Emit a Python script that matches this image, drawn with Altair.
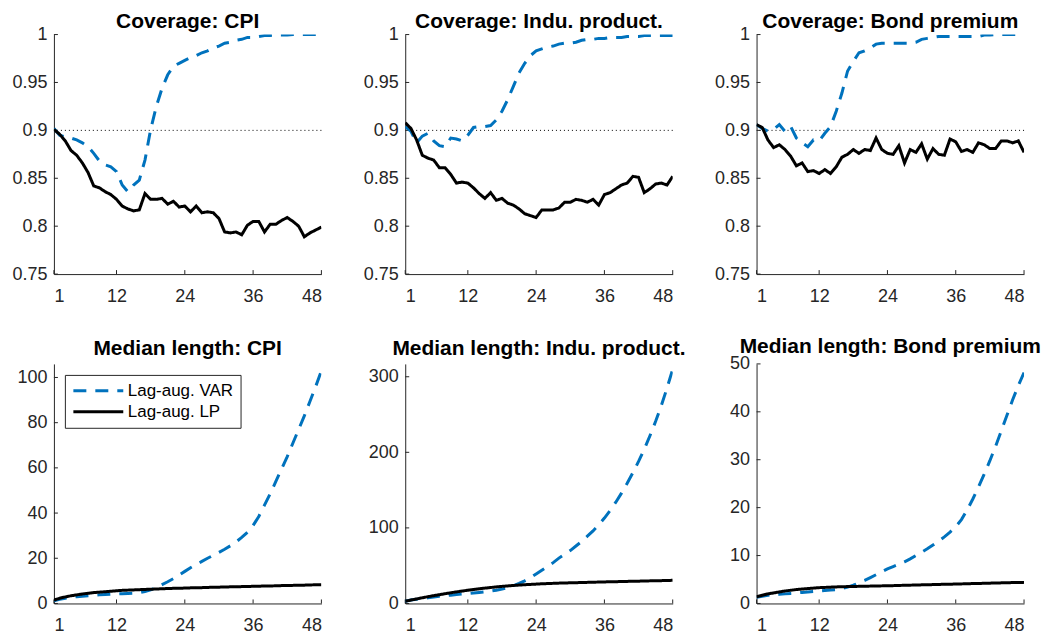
import altair as alt
import pandas as pd

horizons = list(range(1, 49))

series_names = ["Lag-aug. VAR", "Lag-aug. LP"]
line_colors = ["#0072BD", "#000000"]
line_dashes = [[13, 9], [1, 0]]

target_level = [0.9]
x_ticks = [1, 12, 24, 36, 48]

cov_cpi_var = [0.902, 0.895, 0.893, 0.892, 0.890, 0.887, 0.883, 0.876, 0.868, 0.864,
               0.862, 0.857, 0.843, 0.836, 0.843, 0.848, 0.869, 0.901, 0.925, 0.944,
               0.958, 0.967, 0.970, 0.973, 0.976, 0.978, 0.981, 0.983, 0.986, 0.988,
               0.991, 0.992, 0.994, 0.995, 0.997, 0.997, 0.998, 0.999, 0.999, 0.9995,
               0.9995, 0.9995, 1.0, 1.0, 1.0, 1.0, 1.0, 1.0]
cov_cpi_lp = [0.901, 0.896, 0.889, 0.879, 0.874, 0.866, 0.856, 0.842, 0.840, 0.836,
              0.833, 0.828, 0.821, 0.818, 0.816, 0.817, 0.834, 0.828, 0.828, 0.829,
              0.823, 0.826, 0.820, 0.821, 0.815, 0.821, 0.814, 0.815, 0.814, 0.808,
              0.794, 0.793, 0.794, 0.791, 0.801, 0.805, 0.805, 0.794, 0.802, 0.802,
              0.806, 0.809, 0.805, 0.800, 0.789, 0.793, 0.796, 0.799]

cov_ip_var = [0.904, 0.899, 0.887, 0.894, 0.897, 0.889, 0.884, 0.883, 0.892, 0.891,
              0.889, 0.895, 0.903, 0.904, 0.904, 0.905, 0.911, 0.920, 0.932, 0.946,
              0.960, 0.970, 0.978, 0.983, 0.985, 0.987, 0.988, 0.990, 0.991, 0.991,
              0.992, 0.994, 0.995, 0.995, 0.996, 0.996, 0.997, 0.997, 0.997, 0.998,
              0.998, 0.998, 0.999, 0.999, 0.999, 0.999, 0.999, 0.999]
cov_ip_lp = [0.908, 0.902, 0.890, 0.874, 0.871, 0.869, 0.861, 0.861, 0.854, 0.845,
             0.846, 0.845, 0.840, 0.834, 0.829, 0.835, 0.827, 0.829, 0.824, 0.822,
             0.818, 0.813, 0.811, 0.809, 0.817, 0.817, 0.817, 0.819, 0.825, 0.825,
             0.828, 0.827, 0.825, 0.828, 0.822, 0.833, 0.835, 0.839, 0.843, 0.845,
             0.852, 0.851, 0.835, 0.839, 0.844, 0.845, 0.843, 0.852]

cov_bp_var = [0.906, 0.902, 0.899, 0.901, 0.906, 0.899, 0.904, 0.892, 0.887, 0.883,
              0.890, 0.889, 0.897, 0.904, 0.920, 0.939, 0.962, 0.972, 0.981, 0.983,
              0.986, 0.990, 0.991, 0.991, 0.991, 0.991, 0.991, 0.991, 0.992, 0.995,
              0.996, 0.997, 0.998, 0.998, 0.998, 0.998, 0.998, 0.998, 0.998, 0.998,
              0.9995, 0.9995, 1.0, 1.0, 1.0, 1.0, 1.0, 1.0]
cov_bp_lp = [0.906, 0.903, 0.890, 0.882, 0.885, 0.880, 0.873, 0.863, 0.866, 0.857,
             0.858, 0.855, 0.859, 0.855, 0.862, 0.872, 0.875, 0.880, 0.876, 0.880,
             0.879, 0.892, 0.880, 0.876, 0.875, 0.884, 0.866, 0.880, 0.877, 0.886,
             0.870, 0.881, 0.875, 0.874, 0.891, 0.888, 0.878, 0.880, 0.877, 0.887,
             0.885, 0.881, 0.881, 0.889, 0.889, 0.887, 0.889, 0.877]

len_cpi_var = [1.2, 1.8, 2.3, 2.7, 3.0, 3.2, 3.4, 3.6, 3.8, 4.0,
               4.1, 4.2, 4.3, 4.4, 4.5, 4.8, 5.3, 6.0, 7.0, 8.3,
               9.6, 11.0, 12.6, 14.2, 15.8, 17.2, 18.6, 20.0, 21.3, 22.6,
               24.0, 25.5, 27.2, 29.2, 31.5, 34.5, 38.5, 43.5, 48.5, 54.0,
               59.5, 65.0, 71.0, 77.0, 83.0, 89.5, 96.0, 103.0]
len_cpi_lp = [1.5, 2.3, 2.9, 3.4, 3.8, 4.2, 4.5, 4.8, 5.0, 5.2,
              5.4, 5.6, 5.8, 5.9, 6.0, 6.1, 6.2, 6.3, 6.4, 6.5,
              6.6, 6.7, 6.75, 6.8, 6.9, 6.95, 7.0, 7.1, 7.15, 7.2,
              7.3, 7.35, 7.4, 7.45, 7.5, 7.6, 7.65, 7.7, 7.75, 7.8,
              7.9, 7.95, 8.0, 8.05, 8.1, 8.2, 8.25, 8.3]

len_ip_var = [3.0, 4.5, 5.5, 6.5, 7.5, 8.5, 9.5, 10.2, 11.0, 11.8,
              12.5, 13.2, 13.8, 14.5, 15.3, 16.3, 17.5, 19.0, 21.0, 23.5,
              26.5, 30.0, 34.0, 39.0, 44.0, 49.0, 54.0, 60.0, 65.0, 70.0,
              76.0, 82.0, 89.0, 96.0, 104.0, 113.0, 123.0, 134.0, 146.0, 159.0,
              173.0, 188.0, 204.0, 222.0, 241.0, 262.0, 285.0, 310.0]
len_ip_lp = [3.0, 4.5, 6.0, 7.5, 9.0, 10.3, 11.6, 12.9, 14.1, 15.3,
             16.4, 17.5, 18.5, 19.4, 20.3, 21.1, 21.9, 22.6, 23.2, 23.8,
             24.3, 24.8, 25.2, 25.6, 26.0, 26.3, 26.6, 26.9, 27.1, 27.3,
             27.5, 27.7, 27.9, 28.1, 28.3, 28.5, 28.7, 28.8, 29.0, 29.2,
             29.4, 29.5, 29.7, 29.9, 30.0, 30.2, 30.4, 30.6]

len_bp_var = [1.3, 1.5, 1.7, 1.8, 1.9, 2.0, 2.1, 2.2, 2.3, 2.4,
              2.5, 2.6, 2.7, 2.8, 2.9, 3.1, 3.4, 3.8, 4.3, 4.8,
              5.4, 6.0, 6.6, 7.2, 7.7, 8.2, 8.7, 9.3, 10.0, 10.7,
              11.4, 12.2, 13.0, 13.9, 14.9, 16.0, 17.5, 19.5, 21.8, 24.3,
              27.0, 29.8, 32.8, 36.0, 39.3, 42.5, 45.5, 48.2]
len_bp_lp = [1.4, 1.7, 2.0, 2.2, 2.4, 2.6, 2.75, 2.9, 3.0, 3.1,
             3.2, 3.3, 3.35, 3.4, 3.45, 3.5, 3.52, 3.55, 3.57, 3.6,
             3.62, 3.65, 3.67, 3.7, 3.72, 3.75, 3.8, 3.82, 3.85, 3.88,
             3.9, 3.94, 3.97, 4.0, 4.02, 4.05, 4.08, 4.12, 4.15, 4.18,
             4.2, 4.24, 4.27, 4.3, 4.33, 4.36, 4.38, 4.4]

FONT = "Liberation Sans"
AXIS_COLOR = "#262626"
W, H = 268, 240


def panel(title, var_vals, lp_vals, y_domain, y_ticks, fmt, title_offset,
          show_target=False, show_legend=False):
    df = pd.DataFrame({
        "h": horizons * 2,
        "value": var_vals + lp_vals,
        "series": [series_names[0]] * len(horizons) + [series_names[1]] * len(horizons),
    })
    x = alt.X("h:Q", scale=alt.Scale(domain=[1, 48], nice=False, zero=False),
              axis=alt.Axis(values=x_ticks, title=None, ticks=False, labelPadding=13))
    y = alt.Y("value:Q", scale=alt.Scale(domain=y_domain, nice=False, zero=False),
              axis=alt.Axis(values=y_ticks, format=fmt, title=None, ticks=False,
                            labelPadding=7, minExtent=46, maxExtent=46))
    if show_legend:
        leg = alt.Legend(title=None, orient="top-left", offset=11, strokeColor=AXIS_COLOR,
                         fillColor="white", padding=7, symbolType="stroke", symbolSize=2500,
                         symbolStrokeWidth=3, labelFontSize=17, labelFont=FONT,
                         labelColor="black", labelOffset=3, clipHeight=18, rowPadding=3)
    else:
        leg = None
    color = alt.Color("series:N", scale=alt.Scale(domain=series_names, range=line_colors), legend=leg)
    dash = alt.StrokeDash("series:N", scale=alt.Scale(domain=series_names, range=line_dashes), legend=leg)

    base = alt.Chart(df).mark_line(strokeWidth=3, clip=True).encode(
        x=x, y=y, color=color, strokeDash=dash)
    var_line = base.transform_filter(alt.datum.series == series_names[0])
    lp_line = base.transform_filter(alt.datum.series == series_names[1])

    layers = []
    if show_target:
        tgt = alt.Chart(pd.DataFrame({"value": target_level})).mark_rule(
            color="black", strokeDash=[1, 3], strokeWidth=1).encode(y="value:Q")
        layers.append(tgt)
    xt = alt.Chart(pd.DataFrame({"h": x_ticks})).mark_rule(color=AXIS_COLOR, strokeWidth=1).encode(
        x="h:Q", y=alt.value(H), y2=alt.value(H - 4))
    yt = alt.Chart(pd.DataFrame({"value": y_ticks})).mark_rule(color=AXIS_COLOR, strokeWidth=1).encode(
        y="value:Q", x=alt.value(0), x2=alt.value(4))
    layers += [xt, yt, var_line, lp_line]
    return alt.layer(*layers).properties(
        width=W, height=H,
        title=alt.TitleParams(title, frame="group", offset=title_offset))


cov_ticks = [0.75, 0.8, 0.85, 0.9, 0.95, 1.0]
p1 = panel("Coverage: CPI", cov_cpi_var, cov_cpi_lp, [0.75, 1.0], cov_ticks, "~g", -6, show_target=True)
p2 = panel("Coverage: Indu. product.", cov_ip_var, cov_ip_lp, [0.75, 1.0], cov_ticks, "~g", -6, show_target=True)
p3 = panel("Coverage: Bond premium", cov_bp_var, cov_bp_lp, [0.75, 1.0], cov_ticks, "~g", -6, show_target=True)
p4 = panel("Median length: CPI", len_cpi_var, len_cpi_lp, [0, 106],
           [0, 20, 40, 60, 80, 100], "d", 5, show_legend=True)
p5 = panel("Median length: Indu. product.", len_ip_var, len_ip_lp, [0, 317],
           [0, 100, 200, 300], "d", 5)
p6 = panel("Median length: Bond premium", len_bp_var, len_bp_lp, [0, 50],
           [0, 10, 20, 30, 40, 50], "d", -2)

chart = alt.concat(p1, p2, p3, p4, p5, p6, columns=3,
                   spacing={"row": 90, "column": 84}, bounds="flush").resolve_scale(
    color="independent", strokeDash="independent"
).resolve_legend(
    color="independent", strokeDash="independent"
).properties(
    padding={"top": 2, "left": 0, "right": 0, "bottom": 0}
).configure_view(
    strokeWidth=0
).configure_axis(
    domainColor=AXIS_COLOR, domainWidth=1, grid=False, labelFont=FONT,
    labelFontSize=18, labelColor=AXIS_COLOR
).configure_title(
    font=FONT, fontSize=21, fontWeight="bold", color="black", anchor="middle"
)

chart.save("out.html", embed_options={"renderer": "svg", "actions": False})
